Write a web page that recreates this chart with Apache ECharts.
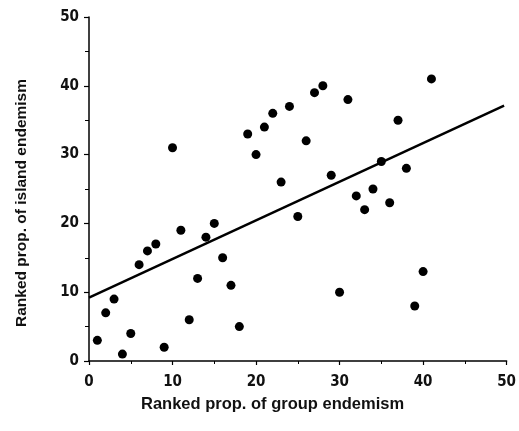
<!DOCTYPE html>
<html>
<head>
<meta charset="utf-8">
<script src="https://cdn.jsdelivr.net/npm/echarts@6/dist/echarts.min.js"></script>
<style>
  html, body { margin: 0; padding: 0; background: #fff; }
  #chart { width: 519px; height: 431px; }
</style>
</head>
<body>
<div id="chart"></div>
<script>
// ranked proportions, one point per group
var groupRank  = [1, 2, 3, 4, 5, 6, 7, 8, 9, 10, 11, 12, 13, 14, 15, 16, 17, 18, 19, 20, 21,
                  22, 23, 24, 25, 26, 27, 28, 29, 30, 31, 32, 33, 34, 35, 36, 37, 38, 39, 40, 41];
var islandRank = [3, 7, 9, 1, 4, 14, 16, 17, 2, 31, 19, 6, 12, 18, 20, 15, 11, 5, 33, 30, 34,
                  36, 26, 37, 21, 32, 39, 40, 27, 10, 38, 24, 22, 25, 29, 23, 35, 28, 8, 13, 41];
var xTicks = [0, 10, 20, 30, 40, 50];
var yTicks = [0, 10, 20, 30, 40, 50];
var lineX = [0, 49.7];

// least squares fit
var n = groupRank.length, mx = 0, my = 0;
for (var i = 0; i < n; i++) { mx += groupRank[i]; my += islandRank[i]; }
mx /= n; my /= n;
var sxy = 0, sxx = 0;
for (var i = 0; i < n; i++) {
  sxy += (groupRank[i] - mx) * (islandRank[i] - my);
  sxx += (groupRank[i] - mx) * (groupRank[i] - mx);
}
var slope = sxy / sxx, icpt = my - slope * mx;

var pts = groupRank.map(function (x, i) { return [x, islandRank[i]]; });
var fit = lineX.map(function (x) { return [x, icpt + slope * x]; });

var tickFont = { fontFamily: '"Liberation Sans Narrow", "DejaVu Sans Condensed", "Liberation Sans", sans-serif',
                 fontWeight: 'bold', fontSize: 15, color: '#111' };

var chart = echarts.init(document.getElementById('chart'));
chart.setOption({
  animation: false,
  grid: { left: 89, right: 8, top: 17, bottom: 70 },
  xAxis: {
    type: 'value', min: xTicks[0], max: xTicks[xTicks.length - 1], interval: 10,
    axisLine: { lineStyle: { color: '#000', width: 1.5 } },
    axisTick: { show: true, length: 4, lineStyle: { color: '#000', width: 1.2 } },
    minorTick: { show: true, splitNumber: 2, length: 3, lineStyle: { color: '#000', width: 1 } },
    splitLine: { show: false },
    axisLabel: Object.assign({ margin: 14 }, tickFont)
  },
  yAxis: {
    type: 'value', min: yTicks[0], max: yTicks[yTicks.length - 1], interval: 10,
    axisLine: { show: true, lineStyle: { color: '#000', width: 1.5 } },
    axisTick: { show: true, length: 5, lineStyle: { color: '#000', width: 1.2 } },
    minorTick: { show: true, splitNumber: 2, length: 4, lineStyle: { color: '#000', width: 1 } },
    splitLine: { show: false },
    axisLabel: Object.assign({ margin: 10 }, tickFont)
  },
  graphic: [
    {
      type: 'text', left: 141, top: 396,
      style: { text: 'Ranked prop. of group endemism', fill: '#111',
               font: 'bold 16.5px "Liberation Sans"' }
    },
    {
      type: 'text', x: 22, y: 203, rotation: Math.PI / 2,
      style: { text: 'Ranked prop. of island endemism', fill: '#111',
               font: 'bold 15.5px "Liberation Sans"', align: 'center', verticalAlign: 'middle' }
    }
  ],
  series: [
    {
      type: 'scatter', data: pts, symbol: 'circle', symbolSize: 9,
      itemStyle: { color: '#000', opacity: 1 }
    },
    {
      type: 'line', data: fit, showSymbol: false,
      lineStyle: { color: '#000', width: 2.5 }
    }
  ]
});
</script>
</body>
</html>
